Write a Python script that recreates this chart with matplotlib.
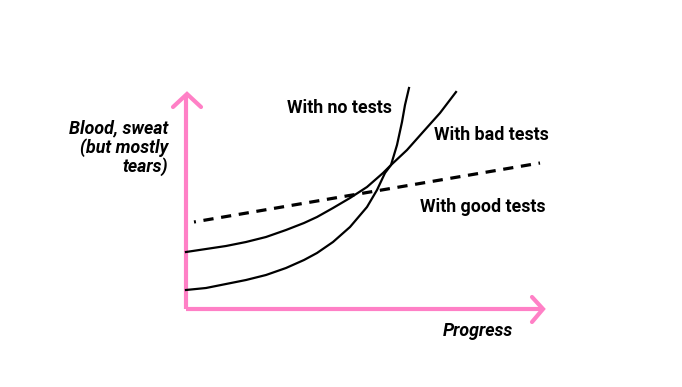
import matplotlib
matplotlib.use("Agg")
import matplotlib.pyplot as plt

# curve readings (x = progress, y = blood/sweat/tears), origin at the axes corner
no_tests_x = [0, 20, 40, 60, 80, 100, 118, 131, 147, 164, 181, 191, 199, 205,
              211, 216, 219, 223]
no_tests_y = [19, 21, 25, 29, 34, 41, 49, 56, 67, 82, 102, 119, 136, 144,
              164, 187, 204, 221]

bad_tests_x = [0, 20, 40, 60, 80, 100, 118, 131, 147, 164, 181, 197, 205,
               221, 237, 254, 270]
bad_tests_y = [57, 60, 63, 67, 72, 79, 86, 92, 101, 111, 122, 136, 144,
               159, 177, 196, 217]

good_tests_x = [8, 354]
good_tests_y = [87, 146]

labels = ["With no tests", "With bad tests", "With good tests"]
ylabel = "Blood, sweat\n(but mostly\ntears)"
xlabel = "Progress"

pink = "#ff80c6"

fig = plt.figure(figsize=(6.82, 3.87), dpi=100)
ax = fig.add_axes([0, 0, 1, 1])
ax.set_xlim(-186, 496)
ax.set_ylim(-78, 309)
ax.axis("off")

# axes with arrow heads
ax.plot([0, 0], [0, 214], color=pink, lw=3, solid_capstyle="butt")
ax.plot([0, 357], [0, 0], color=pink, lw=3, solid_capstyle="butt")
ax.plot([-13, 1, 15], [202, 215, 202], color=pink, lw=3,
        solid_joinstyle="miter", solid_capstyle="round")
ax.plot([346, 357, 346], [12, 0, -13], color=pink, lw=3,
        solid_joinstyle="miter", solid_capstyle="round")

# curves
ax.plot(no_tests_x, no_tests_y, color="black", lw=1.6, solid_joinstyle="round")
ax.plot(bad_tests_x, bad_tests_y, color="black", lw=1.6, solid_joinstyle="round")
ax.plot(good_tests_x, good_tests_y, color="black", lw=2.3,
        linestyle=(2.6, (3.2, 2.4)))

font = dict(family="Roboto", weight="bold", fontsize=12.8, color="black")
ax.text(101, 201, labels[0], ha="left", va="center", **font)
ax.text(248, 174, labels[1], ha="left", va="center", **font)
ax.text(234, 102, labels[2], ha="left", va="center", **font)

ax.text(-18, 161, ylabel, ha="right", va="center", style="italic",
        linespacing=1.05, **font)
ax.text(292, -22, xlabel, ha="center", va="center", style="italic", **font)

fig.savefig("out.png", dpi=100)
